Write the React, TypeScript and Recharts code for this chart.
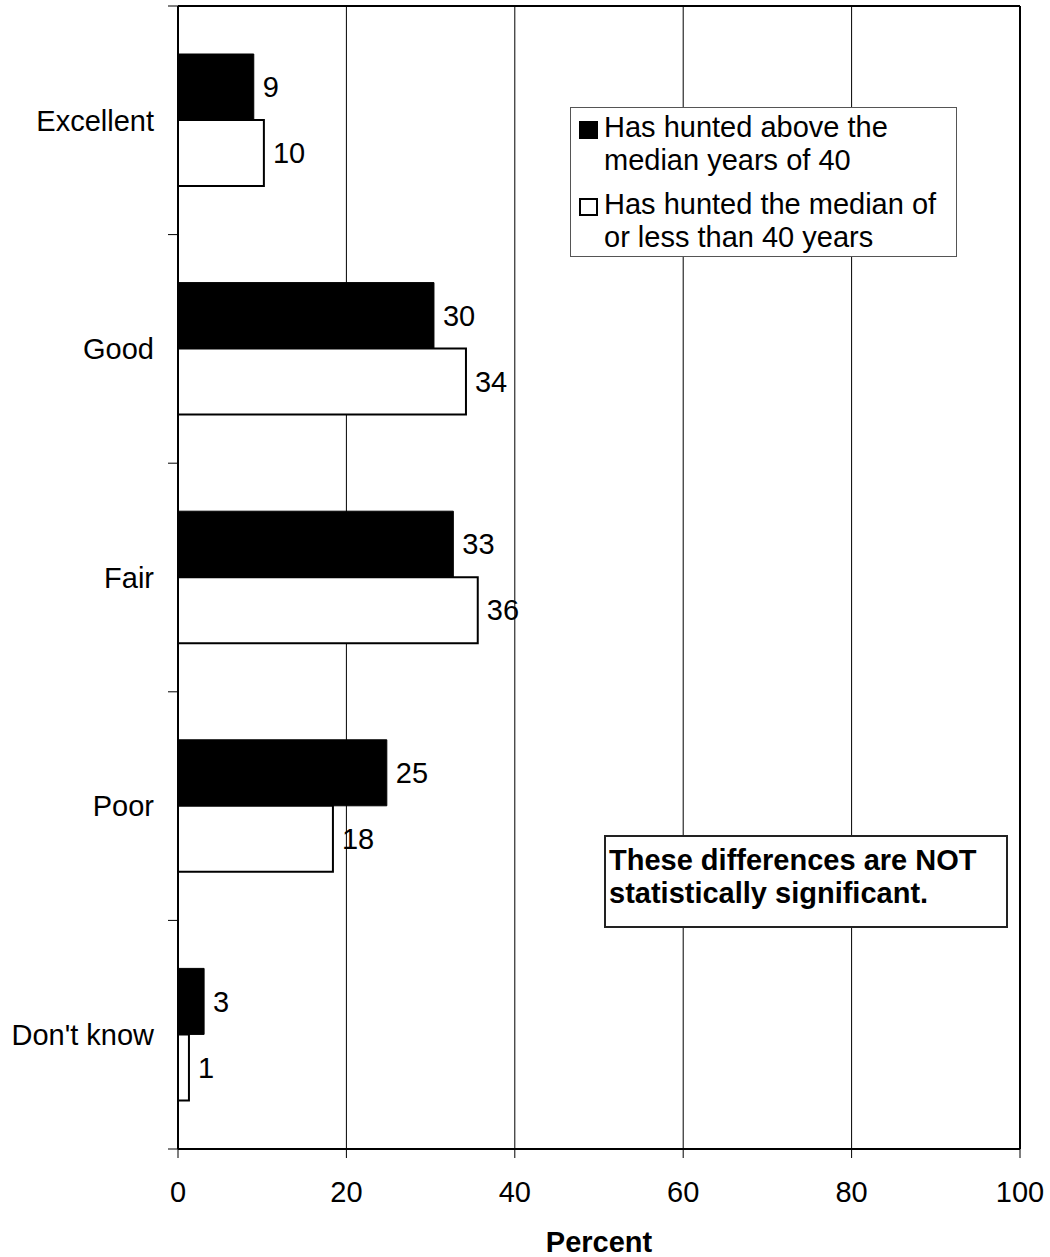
import {
  Bar,
  BarChart,
  CartesianGrid,
  LabelList,
  Legend,
  ReferenceLine,
  XAxis,
  YAxis,
} from "recharts";

const categories = ["Excellent", "Good", "Fair", "Poor", "Don't know"];
const aboveMedian = [9.0, 30.4, 32.7, 24.8, 3.1];
const aboveLabels = [9, 30, 33, 25, 3];
const atOrBelowMedian = [10.2, 34.2, 35.6, 18.4, 1.3];
const belowLabels = [10, 34, 36, 18, 1];
const percentTicks = [0, 20, 40, 60, 80, 100];

const seriesNames = [
  "Has hunted above the median years of 40",
  "Has hunted the median of or less than 40 years",
];
const legendLines = [
  ["Has hunted above the", "median years of 40"],
  ["Has hunted the median of", "or less than 40 years"],
];
const noteLines = ["These differences are NOT", "statistically significant."];

const FONT = '"Liberation Sans", Arial, Helvetica, sans-serif';

type Row = {
  category: string;
  above: number;
  below: number;
  aboveLabel: number;
  belowLabel: number;
};

const data: Row[] = categories.map((category, i) => ({
  category,
  above: aboveMedian[i],
  below: atOrBelowMedian[i],
  aboveLabel: aboveLabels[i],
  belowLabel: belowLabels[i],
}));

// category label plus the short marks at the band edges (Excel style)
function CategoryTick(props: any) {
  const { x, y, payload, index, visibleTicksCount } = props;
  const half = payload?.offset ?? 0;
  const x1 = x + 14;
  const x2 = x + 24;
  const isLast = index === visibleTicksCount - 1;
  return (
    <g>
      <text
        x={x}
        y={y}
        dy="0.355em"
        textAnchor="end"
        fill="#000"
        fontSize={29}
        fontFamily={FONT}
      >
        {payload.value}
      </text>
      {half > 0 && (
        <line x1={x1} y1={y - half} x2={x2} y2={y - half} stroke="#000" />
      )}
      {half > 0 && isLast && (
        <line x1={x1} y1={y + half} x2={x2} y2={y + half} stroke="#000" />
      )}
    </g>
  );
}

function PercentLabel(props: any) {
  const vb = props.viewBox ?? {};
  return (
    <text
      x={vb.x + vb.width / 2}
      y={vb.y + vb.height - 5}
      textAnchor="middle"
      fill="#000"
      fontSize={29}
      fontWeight="bold"
      fontFamily={FONT}
    >
      Percent
    </text>
  );
}

function LegendBox() {
  const fills = ["#000", "#fff"];
  return (
    <div
      style={{
        boxSizing: "border-box",
        width: 387,
        height: 150,
        border: "1px solid #555",
        background: "#fff",
        padding: "3px 4px 2px 8px",
        fontFamily: FONT,
        fontSize: 29,
        lineHeight: "33px",
        color: "#000",
      }}
    >
      {legendLines.map((lines, i) => (
        <div
          key={i}
          style={{ display: "flex", marginTop: i === 0 ? 0 : 11 }}
        >
          <div
            style={{
              boxSizing: "border-box",
              width: 19,
              height: 18,
              marginTop: 10,
              marginRight: 6,
              flexShrink: 0,
              background: fills[i],
              border: "2px solid #000",
            }}
          />
          <div>
            {lines.map((line) => (
              <div key={line} style={{ whiteSpace: "nowrap" }}>
                {line}
              </div>
            ))}
          </div>
        </div>
      ))}
    </div>
  );
}

export default function App() {
  return (
    <div
      style={{
        position: "absolute",
        left: 0,
        top: 0,
        width: 1050,
        height: 1257,
        background: "#fff",
        fontFamily: FONT,
      }}
    >
      <BarChart
        width={1050}
        height={1257}
        data={data}
        layout="vertical"
        margin={{ top: 5, right: 30, bottom: 0, left: 0 }}
        barGap={0}
        barSize={66}
        style={{ fontFamily: FONT }}
      >
        <CartesianGrid
          horizontal={false}
          stroke="#000"
          strokeWidth={1}
        />
        <XAxis
          type="number"
          domain={[0, 100]}
          ticks={percentTicks}
          height={108}
          tickSize={9}
          tickMargin={23}
          axisLine={{ stroke: "#000", strokeWidth: 2 }}
          tickLine={{ stroke: "#000", strokeWidth: 1 }}
          tick={{ fill: "#000", fontSize: 29 }}
          label={<PercentLabel />}
        />
        <XAxis
          xAxisId="top"
          orientation="top"
          type="number"
          domain={[0, 100]}
          height={1}
          tick={false}
          tickLine={false}
          axisLine={{ stroke: "#000", strokeWidth: 2 }}
        />
        <YAxis
          type="category"
          dataKey="category"
          width={178}
          tickSize={10}
          tickMargin={14}
          tickLine={false}
          interval={0}
          axisLine={{ stroke: "#000", strokeWidth: 2 }}
          tick={<CategoryTick />}
        />
        <ReferenceLine x={100} stroke="#000" strokeWidth={2} />
        <Legend
          layout="horizontal"
          verticalAlign="middle"
          align="center"
          wrapperStyle={{ left: 570, top: 107, width: 387, height: 150 }}
          content={() => <LegendBox />}
        />
        <Bar
          dataKey="above"
          name={seriesNames[0]}
          fill="#000"
          stroke="#000"
          strokeWidth={1}
          isAnimationActive={false}
        >
          <LabelList
            dataKey="aboveLabel"
            position="right"
            offset={9}
            style={{ fill: "#000", fontSize: 29 }}
          />
        </Bar>
        <Bar
          dataKey="below"
          name={seriesNames[1]}
          fill="#fff"
          stroke="#000"
          strokeWidth={2}
          isAnimationActive={false}
        >
          <LabelList
            dataKey="belowLabel"
            position="right"
            offset={9}
            style={{ fill: "#000", fontSize: 29 }}
          />
        </Bar>
      </BarChart>
      <div
        style={{
          position: "absolute",
          left: 604,
          top: 835,
          width: 404,
          height: 93,
          boxSizing: "border-box",
          border: "2px solid #222",
          background: "#fff",
          padding: "7px 3px 0 3px",
          fontFamily: FONT,
          fontSize: 29,
          fontWeight: "bold",
          lineHeight: "33px",
          color: "#000",
        }}
      >
        {noteLines.map((line) => (
          <div key={line} style={{ whiteSpace: "nowrap" }}>
            {line}
          </div>
        ))}
      </div>
    </div>
  );
}
